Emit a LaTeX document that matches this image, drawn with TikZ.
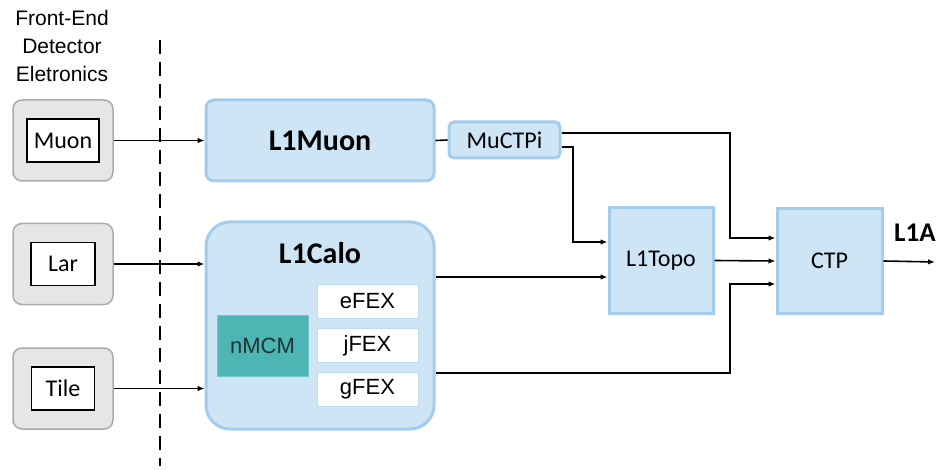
\documentclass[tikz,border=0pt]{standalone}
\usepackage{fontspec}
\setmainfont{Carlito}
\newfontfamily\arialfont{Liberation Sans}
\usetikzlibrary{arrows.meta}

\definecolor{trigfill}{HTML}{CEE5F5}
\definecolor{trigline}{HTML}{A3CDEE}
\definecolor{fefill}{HTML}{E6E6E6}
\definecolor{feline}{HTML}{ABABAB}
\definecolor{mcmfill}{HTML}{4DB5B4}
\definecolor{mcmtext}{HTML}{1E3434}

\tikzstyle{frontend} = [draw=feline,fill=fefill,line width=1.5pt,rounded corners=9pt,minimum width=100pt,minimum height=81pt]
\tikzstyle{detector} = [draw=black,fill=white,line width=1.5pt,font=\fontsize{24}{28}\selectfont,minimum height=43pt,inner sep=0pt]
\tikzstyle{trigger} = [draw=trigline,fill=trigfill,line width=3pt,inner sep=0pt]
\tikzstyle{fex} = [draw=trigline!70,fill=white,line width=1pt,font=\arialfont\fontsize{22}{26}\selectfont,minimum width=101pt,minimum height=34pt,inner sep=0pt]
\tikzstyle{arrowdecorate} = [-{Latex[length=7pt,width=5.5pt]},line width=1.6pt]
\tikzstyle{edge} = [draw,line width=1.6pt,-]

\begin{document}
\begin{tikzpicture}[x=1pt,y=-1pt]
      \useasboundingbox (0,0) rectangle (936,470);
      % front-end electronics
      \node[font=\arialfont\fontsize{21}{28}\selectfont,align=center] (fetitle) at (62,46) {Front-End\\Detector\\Eletronics};
      \foreach \nodename/\y/\label/\width in {
        muon/140.5/Muon/72,
        lar/264/Lar/64,
        tile/388.5/Tile/63}
      {
        \node[frontend] (\nodename) at (63,\y) {};
        \node[detector, minimum width=\width pt] (\nodename in) at (\nodename) {\label};
      };
      \coordinate (cuttop) at (160,40);
      \coordinate (cutbottom) at (160,466);
      \draw[line width=1.5pt,dash pattern=on 14pt off 8pt] (cuttop) -- (cutbottom);

      % trigger boxes
      \node[trigger, rounded corners=8pt, minimum width=228pt, minimum height=81pt, font=\bfseries\fontsize{30}{34}\selectfont] (l1muon) at (320,140.5) {L1Muon};
      \node[trigger, rounded corners=24pt, minimum width=228pt, minimum height=207pt] (l1calo) at (320,325.5) {};
      \node[font=\bfseries\fontsize{30}{34}\selectfont] (l1calotitle) at (320,253) {L1Calo};
      \node[fill=mcmfill, draw=mcmfill!80!white, line width=1pt, text=mcmtext, font=\arialfont\fontsize{22}{26}\selectfont, minimum width=91pt, minimum height=61pt, inner sep=0pt] (nmcm) at (262.5,345.5) {nMCM};
      \foreach \nodename/\y/\label in {efex/301/eFEX, jfex/345.5/jFEX, gfex/389.5/gFEX}
      {
        \node[fex] (\nodename) at (367.5,\y) {\label};
      };
      \node[trigger, rounded corners=5pt, minimum width=111pt, minimum height=36pt, font=\fontsize{24}{28}\selectfont] (muctpi) at (504.5,140) {MuCTPi};
      \node[trigger, minimum width=104pt, minimum height=105pt, font=\fontsize{24}{28}\selectfont] (l1topo) at (661,260.5) {L1Topo};
      \node[trigger, minimum width=105pt, minimum height=104pt, font=\fontsize{24}{28}\selectfont] (ctp) at (829.5,261) {CTP};
      \node[anchor=west, inner sep=0pt, font=\bfseries\fontsize{27}{31}\selectfont] (l1a) at (894,233) {L1A};

      %edges
      \path
      \foreach \startnode/\endnode in {muon/l1muon, lar/l1calo, tile/l1calo}
      {
        (\startnode.east) edge[arrowdecorate] (\endnode.west |- \startnode)
      };
      \path (l1muon.east) edge[edge] (muctpi.west);

      \coordinate (jointa) at (730,133);
      \coordinate (jointb) at (573,147);
      \coordinate (jointc) at (730,373);
      \coordinate (topoin) at ([yshift=-16.5pt]l1topo.west);
      \coordinate (l1aout) at (935,262);
      \draw[arrowdecorate] (muctpi.east |- jointa) -- (jointa) |- ([yshift=23pt]ctp.west);
      \draw[arrowdecorate] (muctpi.east |- jointb) -- (jointb) |- ([yshift=18.5pt]l1topo.west);
      \draw[arrowdecorate] (topoin -| l1calo.east) -- (topoin);
      \draw[arrowdecorate] (l1calo.east |- jointc) -- (jointc) |- ([yshift=-23pt]ctp.west);
      \draw[arrowdecorate] (l1topo.east) -- (ctp.west);
      \draw[arrowdecorate] (ctp.east) -- (l1aout);
    \end{tikzpicture}
\end{document}
